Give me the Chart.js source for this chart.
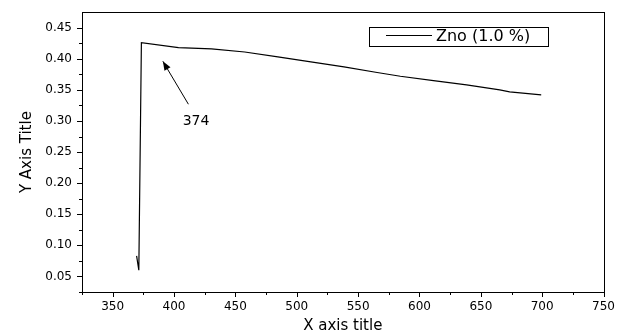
<!DOCTYPE html>
<html>
<head>
<meta charset="utf-8">
<script src="https://cdn.jsdelivr.net/npm/chart.js@4"></script>
<style>
html,body{margin:0;padding:0;background:#fff;}
#wrap{width:618px;height:334px;position:relative;}
</style>
</head>
<body>
<div id="wrap"><canvas id="c" width="618" height="334"></canvas></div>
<script>
// Data
const seriesName = 'Zno (1.0 %)';
const xValues = [369.5, 371.3, 373.4, 403.6, 430.5, 457.6, 484.6, 511.5, 538.5, 565.5, 584.4, 611.4, 638.4, 665.4, 673.5, 699.2];
const yValues = [0.083, 0.060, 0.426, 0.418, 0.416, 0.411, 0.403, 0.395, 0.387, 0.378, 0.372, 0.365, 0.358, 0.350, 0.347, 0.342];
const xTickValues = [350, 400, 450, 500, 550, 600, 650, 700, 750];
const yTickValues = [0.05, 0.10, 0.15, 0.20, 0.25, 0.30, 0.35, 0.40, 0.45];
const annotationText = '374';
const annotationTip = [390.9, 0.396];
const annotationTail = [411.7, 0.327];
const annotationLabel = [417.9, 0.300];

const FONT = '"DejaVu Sans", Arial, sans-serif';

const points = xValues.map((x, i) => ({x: x, y: yValues[i]}));

const frameAndTicks = {
  id: 'frameAndTicks',
  afterDraw(chart) {
    const {ctx, chartArea: a, scales: {x, y}} = chart;
    ctx.save();
    ctx.strokeStyle = '#000';
    ctx.lineWidth = 1;
    ctx.strokeRect(Math.round(a.left) + 0.5, Math.round(a.top) + 0.5, Math.round(a.right - a.left), Math.round(a.bottom - a.top));
    ctx.beginPath();
    for (let v = 325; v <= 750.001; v += 25) {
      const px = Math.round(x.getPixelForValue(v)) + 0.5;
      const major = xTickValues.some(t => Math.abs(t - v) < 1e-6);
      ctx.moveTo(px, a.bottom);
      ctx.lineTo(px, a.bottom + (major ? 5 : 3));
    }
    for (let k = 1; k <= 18; k++) {
      const v = 0.025 * k;
      const py = Math.round(y.getPixelForValue(v)) + 0.5;
      const major = yTickValues.some(t => Math.abs(t - v) < 1e-6);
      ctx.moveTo(a.left, py);
      ctx.lineTo(a.left - (major ? 5 : 3), py);
    }
    ctx.stroke();

    // legend box
    const lx = 369, ly = 27, lw = 179, lh = 19;
    ctx.strokeRect(lx + 0.5, ly + 0.5, lw, lh);
    ctx.beginPath();
    ctx.moveTo(386, ly + 8.5);
    ctx.lineTo(432, ly + 8.5);
    ctx.stroke();
    ctx.fillStyle = '#000';
    ctx.font = '16px ' + FONT;
    ctx.textBaseline = 'middle';
    ctx.textAlign = 'left';
    ctx.fillText(seriesName, 436, ly + 10);

    // annotation arrow
    const tx = x.getPixelForValue(annotationTip[0]), ty = y.getPixelForValue(annotationTip[1]);
    const sx = x.getPixelForValue(annotationTail[0]), sy = y.getPixelForValue(annotationTail[1]);
    ctx.beginPath();
    ctx.moveTo(sx, sy);
    ctx.lineTo(tx, ty);
    ctx.stroke();
    const ang = Math.atan2(ty - sy, tx - sx);
    const hl = 9, hw = 3.5;
    ctx.beginPath();
    ctx.moveTo(tx, ty);
    ctx.lineTo(tx - hl * Math.cos(ang) + hw * Math.sin(ang), ty - hl * Math.sin(ang) - hw * Math.cos(ang));
    ctx.lineTo(tx - hl * Math.cos(ang) - hw * Math.sin(ang), ty - hl * Math.sin(ang) + hw * Math.cos(ang));
    ctx.closePath();
    ctx.fill();
    ctx.font = '14px ' + FONT;
    ctx.textAlign = 'center';
    ctx.fillText(annotationText, x.getPixelForValue(annotationLabel[0]), y.getPixelForValue(annotationLabel[1]));
    ctx.restore();
  }
};

new Chart(document.getElementById('c'), {
  type: 'line',
  data: {
    datasets: [{
      label: seriesName,
      data: points,
      borderColor: '#000',
      borderWidth: 1.2,
      pointRadius: 0,
      fill: false,
      tension: 0
    }]
  },
  options: {
    responsive: false,
    animation: false,
    layout: {padding: {top: 12, right: 11, left: 0, bottom: 0}},
    plugins: {legend: {display: false}, tooltip: {enabled: false}},
    scales: {
      x: {
        type: 'linear',
        min: 325, max: 750,
        afterFit(s) { s.height = 42; },
        afterBuildTicks(s) { s.ticks = xTickValues.map(v => ({value: v})); },
        ticks: {
          color: '#000', padding: 3, maxRotation: 0,
          font: {family: FONT, size: 12},
          callback: v => String(v)
        },
        grid: {drawOnChartArea: false, tickLength: 5, tickColor: 'rgba(0,0,0,0)'},
        border: {display: true, color: '#000', width: 1},
        title: {display: true, text: 'X axis title', color: '#000', font: {family: FONT, size: 15, lineHeight: 1}, padding: {top: 0, bottom: 0}}
      },
      y: {
        type: 'linear',
        min: 0.025, max: 0.475,
        afterFit(s) { s.width = 82; },
        afterBuildTicks(s) { s.ticks = yTickValues.map(v => ({value: v})); },
        ticks: {
          color: '#000', padding: 5,
          font: {family: FONT, size: 12},
          callback: v => Number(v).toFixed(2)
        },
        grid: {drawOnChartArea: false, tickLength: 5, tickColor: 'rgba(0,0,0,0)'},
        border: {display: true, color: '#000', width: 1},
        title: {display: true, text: 'Y Axis Title', color: '#000', font: {family: FONT, size: 15, lineHeight: 1}, padding: {top: 20, bottom: 0}}
      }
    }
  },
  plugins: [frameAndTicks]
});
</script>
</body>
</html>
